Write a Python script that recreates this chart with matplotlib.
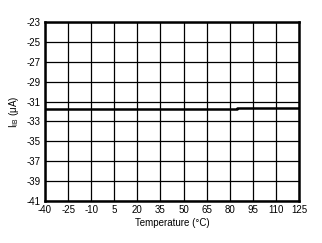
import matplotlib
matplotlib.use("Agg")
import matplotlib.pyplot as plt

plt.rcParams['font.family'] = ['Liberation Sans', 'DejaVu Sans']
plt.rcParams['axes.unicode_minus'] = False

# data
temp = [-40, -25, -10, 5, 20, 35, 50, 65, 80, 85, 85, 95, 110, 125]
iib = [-31.75, -31.75, -31.75, -31.75, -31.75, -31.75, -31.75, -31.75, -31.75, -31.75,
       -31.6, -31.6, -31.6, -31.6]

xticks = [-40, -25, -10, 5, 20, 35, 50, 65, 80, 95, 110, 125]
yticks = [-41, -39, -37, -35, -33, -31, -29, -27, -25, -23]

fig = plt.figure(figsize=(3.22, 2.43), dpi=100)
ax = fig.add_axes([45 / 322, 42 / 243, 254 / 322, 179 / 243])

ax.plot(temp, iib, color='black', lw=1.8)

ax.set_xlim(-40, 125)
ax.set_ylim(-41, -23)
ax.set_xticks(xticks)
ax.set_yticks(yticks)
ax.grid(True, color='black', lw=0.9)
ax.tick_params(length=0, labelsize=7, pad=3)
for s in ax.spines.values():
    s.set_linewidth(1.8)

ax.set_xlabel('Temperature (°C)', fontsize=7, labelpad=2)
ax.set_ylabel('I$_{\\mathregular{IB}}$ (μA)', fontsize=7, labelpad=4)

fig.savefig('out.png', dpi=100)
